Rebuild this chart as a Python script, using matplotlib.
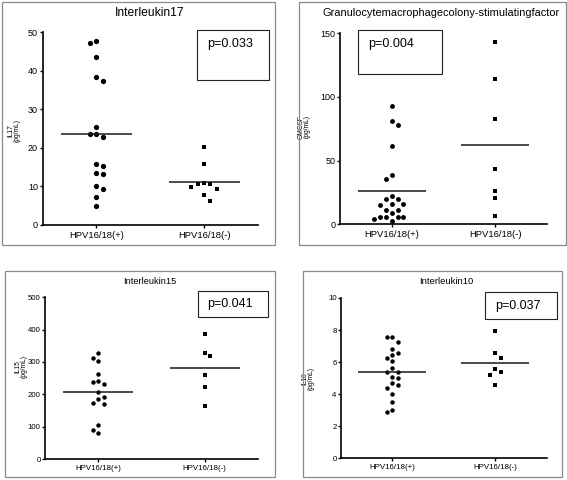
import numpy as np
import matplotlib
matplotlib.use('Agg')
import matplotlib.pyplot as plt
from matplotlib.patches import Rectangle

plt.rcParams['font.family'] = ['Liberation Sans', 'DejaVu Sans']

groups = ['HPV16/18(+)', 'HPV16/18(-)']

il17_pos = [47.6, 47.2, 43.6, 38.3, 37.3, 25.5, 23.7, 22.8, 23.7, 15.4, 15.7, 13.6, 13.3, 10.1, 9.3, 7.3, 5.0]
il17_neg = [20.3, 15.8, 10.6, 9.8, 9.3, 10.6, 10.8, 7.7, 6.2]

gmcsf_pos = [93.2, 81.5, 77.6, 61.5, 38.5, 35.2, 22.1, 19.8, 19.8, 15.4, 15.6, 15.6,
             11.2, 11.2, 8.6, 5.5, 5.5, 2.9, 4.4, 5.5, 5.7]
gmcsf_neg = [143.0, 114.3, 83.0, 43.2, 25.8, 20.3, 6.5]

il15_pos = [329, 304.5, 313, 263, 241, 232.5, 238.7, 207.8, 184, 191, 170, 174, 106, 90.5, 81.3]
il15_neg = [388, 327, 317, 261, 224, 163.6]

il10_pos = [7.58, 7.58, 7.23, 6.83, 6.56, 6.46, 6.07, 6.23, 5.65, 5.38, 5.38, 4.99, 5.07,
            4.70, 4.55, 4.37, 4.04, 3.54, 3.04, 2.88]
il10_neg = [7.93, 6.54, 6.23, 5.38, 5.22, 5.55, 4.55]

W, H = 567, 480
fig = plt.figure(figsize=(W / 100, H / 100), dpi=100)


def fx(x):
    return x / W


def fy(y):
    return 1 - y / H


def frame(x0, y0, x1, y1, color='#8a8a8a', lw=0.9):
    fig.add_artist(Rectangle((fx(x0), fy(y1)), fx(x1) - fx(x0), fy(y0) - fy(y1),
                             transform=fig.transFigure, fill=False, edgecolor=color, lw=lw))


def swarm(ax, x0, vals, diam):
    # prism-like scatter: shift points sideways (half steps) while they collide (px units)
    dx = diam * 1.2
    dy = diam * 1.3
    trans = ax.transData
    inv = trans.inverted()
    cx = trans.transform((x0, 0))[0]
    placed = []
    out = np.zeros(len(vals))
    order = np.argsort(vals)[::-1]
    for n, i in enumerate(order):
        ypx = trans.transform((x0, vals[i]))[1]
        chosen = 0.0
        sign = 1 if n % 2 == 0 else -1
        for k in range(0, 60):
            offs = [0.0] if k == 0 else [sign * k * dx / 2, -sign * k * dx / 2]
            hit = None
            for o in offs:
                if all(abs(cx + o - px) >= dx * 0.99 or abs(ypx - py) >= dy
                       for px, py in placed):
                    hit = o
                    break
            if hit is not None:
                chosen = hit
                break
        placed.append((cx + chosen, ypx))
        out[i] = inv.transform((cx + chosen, ypx))[0]
    return out


def panel(rect, pos, neg, ymax, yticks, ylabel, tick_fs, cat_fs, ms, ylab_xy):
    ax = fig.add_axes(rect)
    ax.set_xlim(0.5, 2.5)
    ax.set_ylim(0, ymax)
    ax.spines['top'].set_visible(False)
    ax.spines['right'].set_visible(False)
    for s in ('left', 'bottom'):
        ax.spines[s].set_linewidth(1.2)
    ax.set_yticks(yticks)
    ax.set_xticks([1, 2])
    ax.set_xticklabels(groups, fontsize=cat_fs)
    ax.tick_params(axis='y', labelsize=tick_fs, length=2.2, width=1, pad=1)
    ax.tick_params(axis='x', length=2.5, width=1, pad=1.5)
    ax.set_ylabel(ylabel, fontsize=4.8, linespacing=0.95)
    ax.yaxis.set_label_coords(*ylab_xy)

    diam = ms * 1.389
    xp = swarm(ax, 1, pos, diam)
    xn = swarm(ax, 2, neg, diam)
    ax.plot(xp, pos, 'o', color='black', ms=ms, mew=0, clip_on=False)
    ax.plot(xn, neg, 's', color='black', ms=ms * 0.92, mew=0, clip_on=False)
    ax.hlines([np.mean(pos)], 1 - 0.33, 1 + 0.33, color='#1a1a1a', lw=1.1)
    ax.hlines([np.mean(neg)], 2 - 0.33, 2 + 0.33, color='#1a1a1a', lw=1.1)
    return ax


# frames around each panel
frame(2, 2, 275, 245)
frame(299, 2, 566, 245)
frame(5, 271, 275, 477)
frame(303, 271, 562, 477)

# Interleukin17
panel([fx(42.5), fy(225), (258 - 42.5) / W, (225 - 32) / H], il17_pos, il17_neg,
      50, range(0, 51, 10), 'IL17\n(pg/mL)', 6.5, 6.8, 3.8, (-0.10, 0.49))
fig.text(fx(150), fy(13), 'Interleukin17', fontsize=8.7, ha='center', va='center')
frame(197, 30, 269, 80, color='#222222', lw=0.8)
fig.text(fx(207), fy(44), 'p=0.033', fontsize=9.1, ha='left', va='center')

# GMCSF
panel([fx(340), fy(224.3), (547 - 340) / W, (224.3 - 33.3) / H], gmcsf_pos, gmcsf_neg,
      150, [0, 50, 100, 150], 'GMCSF\n(pg/mL)', 6.5, 6.8, 3.5, (-0.14, 0.51))
fig.text(fx(441), fy(13), 'Granulocytemacrophagecolony-stimulatingfactor', fontsize=7.9,
         ha='center', va='center')
frame(358, 30, 442, 74, color='#222222', lw=0.8)
fig.text(fx(368), fy(44), 'p=0.004', fontsize=9.1, ha='left', va='center')

# Interleukin15
panel([fx(45), fy(459), (258 - 45) / W, (459 - 297.3) / H], il15_pos, il15_neg,
      500, range(0, 501, 100), 'IL15\n(pg/mL)', 5.6, 5.7, 3.2, (-0.08, 0.57))
fig.text(fx(150), fy(282), 'Interleukin15', fontsize=6.7, ha='center', va='center')
frame(198, 291, 268, 317, color='#222222', lw=0.8)
fig.text(fx(229.5), fy(304), 'p=0.041', fontsize=9.0, ha='center', va='center')

# Interleukin10
panel([fx(341), fy(458.3), (546.7 - 341) / W, (458.3 - 298) / H], il10_pos, il10_neg,
      10, range(0, 11, 2), 'IL10\n(pg/mL)', 5.6, 5.7, 3.2, (-0.126, 0.50))
fig.text(fx(446), fy(282), 'Interleukin10', fontsize=6.8, ha='center', va='center')
frame(485, 292, 557, 319, color='#222222', lw=0.8)
fig.text(fx(518), fy(306), 'p=0.037', fontsize=9.0, ha='center', va='center')

fig.savefig('out.png', dpi=100)
